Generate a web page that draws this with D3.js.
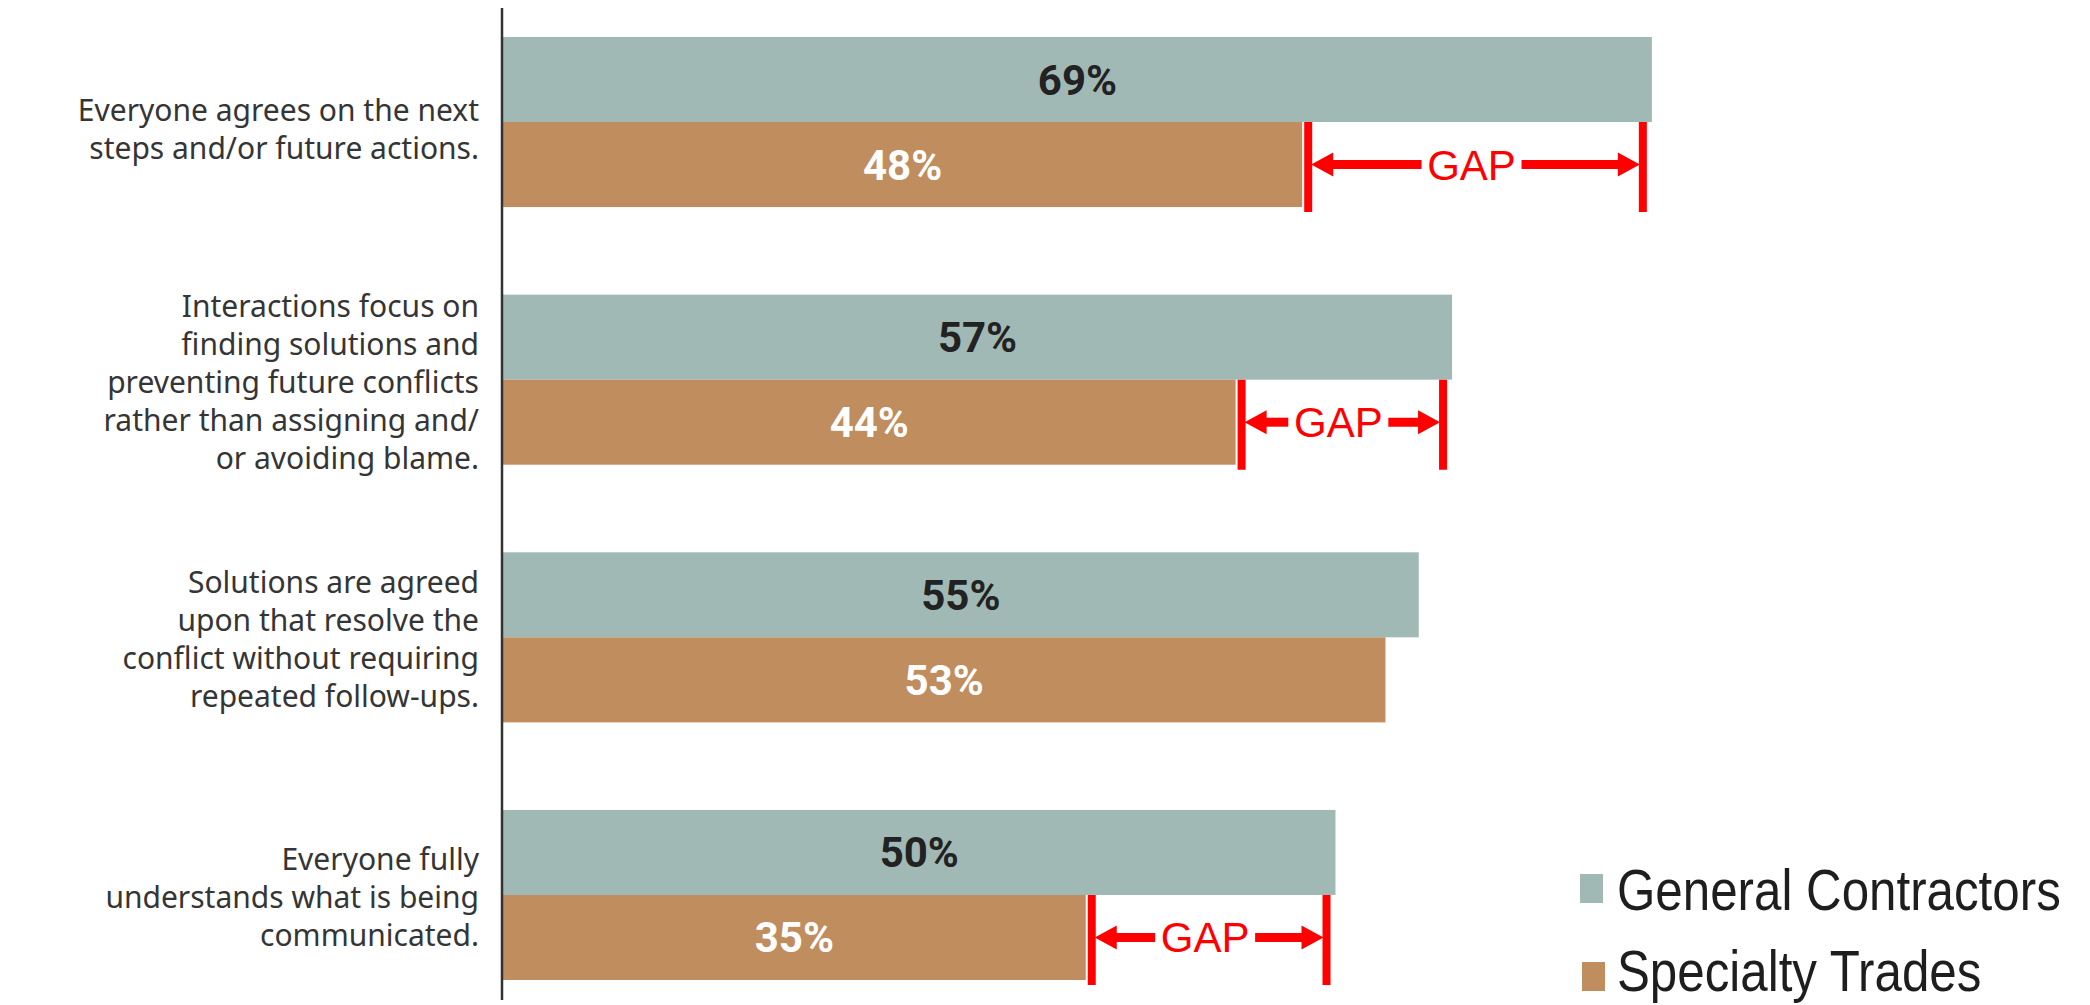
<!DOCTYPE html>
<html>
<head>
<meta charset="utf-8">
<script src="https://cdn.jsdelivr.net/npm/d3@7"></script>
<style>
    body { margin: 0; background: #ffffff; }
</style>
</head>
<body>
<div id="chart"></div>
<script>
// row labels, one array of lines per row
var labelLines = [
    ["Everyone agrees on the next", "steps and/or future actions."],
    ["Interactions focus on", "finding solutions and", "preventing future conflicts", "rather than assigning and/", "or avoiding blame."],
    ["Solutions are agreed", "upon that resolve the", "conflict without requiring", "repeated follow-ups."],
    ["Everyone fully", "understands what is being", "communicated."]
];
var categories = ["agree", "focus", "resolve", "understand"];
var generalContractors = [69, 57, 55, 50];
var specialtyTrades = [48, 44, 53, 35];
var seriesNames = ["General Contractors", "Specialty Trades"];
var gapRows = ["agree", "focus", "understand"];

var width = 2090, height = 1005;
var colors = { "General Contractors": "#a0b9b5", "Specialty Trades": "#c08d5f" };

buildChart();

function buildChart()
{
    var svg = d3.select("#chart")
        .append("svg")
        .attr("width", width)
        .attr("height", height);

    var x = d3.scaleLinear()
        .domain([0, 100])
        .range([503, 2168]);

    var y = d3.scaleBand()
        .domain(categories)
        .range([37, 980])
        .paddingInner(0.34)
        .paddingOuter(0);

    var ySub = d3.scaleBand()
        .domain(seriesNames)
        .range([0, y.bandwidth()])
        .padding(0);

    var rows = categories.map(function(c, i) {
        return { key: c, lines: labelLines[i], gc: generalContractors[i], st: specialtyTrades[i] };
    });

    // bars
    var groups = svg.selectAll(".row")
        .data(rows)
        .enter()
        .append("g")
        .attr("class", "row")
        .attr("transform", function(d) { return "translate(0," + y(d.key) + ")"; });

    groups.selectAll("rect")
        .data(function(d) {
            return [
                { series: seriesNames[0], value: d.gc },
                { series: seriesNames[1], value: d.st }
            ];
        })
        .enter()
        .append("rect")
        .attr("x", x(0))
        .attr("y", function(d) { return ySub(d.series); })
        .attr("width", function(d) { return x(d.value) - x(0); })
        .attr("height", ySub.bandwidth())
        .style("fill", function(d) { return colors[d.series]; });

    // value labels inside bars
    groups.selectAll(".val")
        .data(function(d) {
            return [
                { series: seriesNames[0], value: d.gc },
                { series: seriesNames[1], value: d.st }
            ];
        })
        .enter()
        .append("text")
        .attr("class", "val")
        .attr("x", function(d) { return (x(0) + x(d.value)) / 2; })
        .attr("y", function(d) { return ySub(d.series) + ySub.bandwidth() / 2 + 15; })
        .attr("text-anchor", "middle")
        .style("font-family", "Roboto, sans-serif")
        .style("font-weight", "700")
        .style("font-size", "42px")
        .style("fill", function(d) { return d.series == seriesNames[0] ? "#222222" : "#ffffff"; })
        .text(function(d) { return d.value + "%"; });

    // category labels, right aligned against the axis
    var lineHeight = 38;
    groups.append("text")
        .attr("text-anchor", "end")
        .style("font-family", "'Noto Sans', sans-serif")
        .style("font-size", "30px")
        .style("fill", "#353535")
        .each(function(d) {
            var t = d3.select(this);
            var n = d.lines.length;
            var shift = n == 2 ? 18 : 13;
            d.lines.forEach(function(line, i) {
                t.append("tspan")
                    .attr("x", 479)
                    .attr("y", y.bandwidth() / 2 + (i - (n - 1) / 2) * lineHeight + shift)
                    .text(line);
            });
        });

    // vertical axis line
    svg.append("line")
        .attr("x1", 502).attr("x2", 502)
        .attr("y1", 8).attr("y2", 1000)
        .style("stroke", "#333333")
        .style("stroke-width", 2.5);

    // GAP annotations
    rows.filter(function(d) { return gapRows.indexOf(d.key) >= 0; })
        .forEach(function(d) { drawGap(svg, x, y, ySub, d); });

    // legend (narrow type, squeezed horizontally)
    var legend = svg.append("g").attr("class", "legend");
    seriesNames.forEach(function(name, i) {
        var ly = 874 + i * 88;
        legend.append("rect")
            .attr("x", 1580 + i * 2)
            .attr("y", ly)
            .attr("width", 23)
            .attr("height", 29)
            .style("fill", colors[name]);
        legend.append("text")
            .attr("transform", "translate(1617," + (910 + i * 81) + ") scale(0.85,1)")
            .style("font-family", "'Liberation Sans', Arial, sans-serif")
            .style("font-size", "58px")
            .style("fill", "#1e1e1e")
            .text(name);
    });
}

function drawGap(svg, x, y, ySub, d)
{
    var red = "#ff0000";
    var top = y(d.key) + ySub(seriesNames[1]);
    var bottom = top + ySub.bandwidth() + 5;
    var left = x(d.st) + 6;
    var right = x(d.gc) - 9;
    var mid = top + ySub.bandwidth() / 2;
    var cx = (left + right) / 2 - 4;
    var half = 50;
    var head = 22;

    var g = svg.append("g").attr("class", "gap");

    // end markers
    [left, right].forEach(function(px) {
        g.append("line")
            .attr("x1", px).attr("x2", px)
            .attr("y1", top).attr("y2", bottom)
            .style("stroke", red)
            .style("stroke-width", 8);
    });

    // shafts
    g.append("line")
        .attr("x1", left + head).attr("x2", cx - half)
        .attr("y1", mid).attr("y2", mid)
        .style("stroke", red).style("stroke-width", 9);
    g.append("line")
        .attr("x1", cx + half).attr("x2", right - head)
        .attr("y1", mid).attr("y2", mid)
        .style("stroke", red).style("stroke-width", 9);

    // heads
    var p = d3.path();
    p.moveTo(left + 3, mid);
    p.lineTo(left + 3 + head, mid - 12);
    p.lineTo(left + 3 + head, mid + 12);
    p.closePath();
    p.moveTo(right - 3, mid);
    p.lineTo(right - 3 - head, mid - 12);
    p.lineTo(right - 3 - head, mid + 12);
    p.closePath();
    g.append("path").attr("d", p.toString()).style("fill", red);

    g.append("text")
        .attr("x", cx)
        .attr("y", mid + 15)
        .attr("text-anchor", "middle")
        .style("font-family", "'Liberation Sans', Arial, sans-serif")
        .style("font-size", "42px")
        .style("fill", red)
        .text("GAP");
}
</script>
</body>
</html>
